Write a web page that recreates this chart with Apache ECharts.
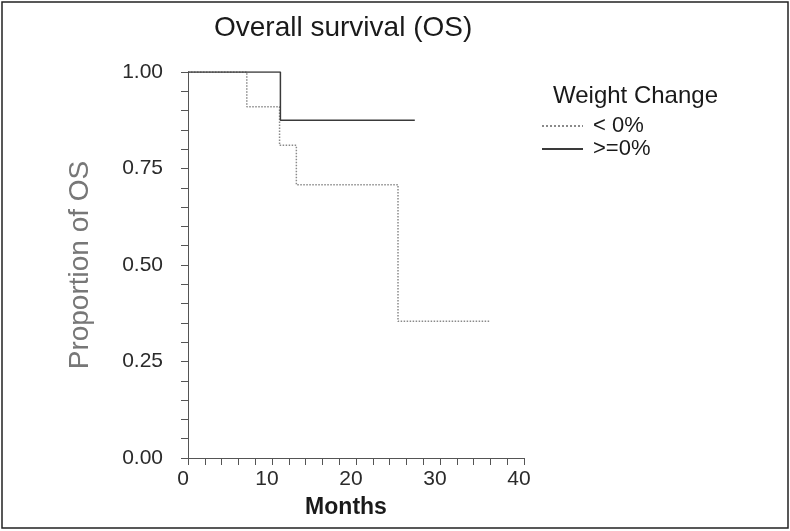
<!DOCTYPE html>
<html>
<head>
<meta charset="utf-8">
<script src="https://cdn.jsdelivr.net/npm/echarts@6/dist/echarts.min.js"></script>
<style>
html,body{margin:0;padding:0;background:#fff;}
#chart{width:790px;height:531px;}
</style>
</head>
<body>
<div id="chart"></div>
<script>
// Kaplan-Meier step data: [months, proportion]
var neg_months = [0, 7, 10.9, 12.9, 25, 36];
var neg_surv   = [1, 0.91, 0.81, 0.708, 0.354, 0.354];
var pos_months = [0, 11, 27];
var pos_surv   = [1, 0.875, 0.875];
var seriesNames = ['< 0%', '>=0%'];
var yTicks = [0, 0.25, 0.5, 0.75, 1];
var xTicks = [0, 10, 20, 30, 40];

function zip(a, b) { return a.map(function (v, i) { return [v, b[i]]; }); }

var FONT = 'Liberation Sans, Arial, sans-serif';
var chart = echarts.init(document.getElementById('chart'), null, {renderer: 'canvas'});
chart.setOption({
  animation: false,
  backgroundColor: '#fff',
  title: [
    {text: 'Overall survival (OS)', left: 209, top: 9,
     textStyle: {fontFamily: FONT, fontSize: 28, fontWeight: 'normal', color: '#1a1a1a'}},
    {text: 'Weight Change', left: 548, top: 79,
     textStyle: {fontFamily: FONT, fontSize: 24, fontWeight: 'normal', color: '#1a1a1a'}}
  ],
  legend: {
    orient: 'vertical', left: 536, top: 110,
    itemWidth: 41, itemHeight: 12, itemGap: 1,
    itemStyle: {opacity: 0},
    textStyle: {fontFamily: FONT, fontSize: 22, color: '#1a1a1a', padding: [0, 0, 0, 5]},
    data: seriesNames
  },
  grid: {left: 188, right: 266, top: 72, bottom: 73, containLabel: false},
  xAxis: {
    type: 'value', min: 0, max: 40, interval: 10,
    name: 'Months', nameLocation: 'middle', nameGap: 38,
    nameTextStyle: {fontFamily: FONT, fontSize: 23, fontWeight: 'bold', color: '#1a1a1a', padding: [0, 20, 0, 0]},
    axisLine: {show: true, lineStyle: {color: '#555', width: 1}},
    axisTick: {show: true, inside: false, length: 7, lineStyle: {color: '#555'}},
    minorTick: {show: true, splitNumber: 5, length: 7, lineStyle: {color: '#555'}},
    splitLine: {show: false},
    axisLabel: {fontFamily: FONT, fontSize: 21, color: '#2a2a2a', margin: 11, padding: [0, 10, 0, 0],
      formatter: function (v) { return xTicks.indexOf(v) >= 0 ? String(v) : ''; }}
  },
  yAxis: {
    type: 'value', min: 0, max: 1, interval: 0.25,
    name: 'Proportion of OS', nameLocation: 'middle', nameGap: 94,
    nameTextStyle: {fontFamily: FONT, fontSize: 28, color: '#777'},
    axisLine: {show: true, lineStyle: {color: '#555', width: 1}},
    axisTick: {show: true, inside: false, length: 7, lineStyle: {color: '#555'}},
    minorTick: {show: true, splitNumber: 5, length: 7, lineStyle: {color: '#555'}},
    splitLine: {show: false},
    axisLabel: {fontFamily: FONT, fontSize: 21, color: '#2a2a2a', margin: 25,
      formatter: function (v) { return yTicks.indexOf(v) >= 0 ? v.toFixed(2) : ''; }}
  },
  graphic: [
    {type: 'rect', shape: {x: 2, y: 2, width: 786, height: 526},
     style: {fill: 'none', stroke: '#222', lineWidth: 1.5}, silent: true}
  ],
  series: [
    {name: seriesNames[0], type: 'line', step: 'end', symbol: 'none', showSymbol: false,
     data: zip(neg_months, neg_surv),
     lineStyle: {color: '#8a8a8a', width: 1.5, type: 'dotted'},
     itemStyle: {color: '#8a8a8a'}},
    {name: seriesNames[1], type: 'line', step: 'end', symbol: 'none', showSymbol: false,
     data: zip(pos_months, pos_surv),
     lineStyle: {color: '#3a3a3a', width: 1.5, type: 'solid'},
     itemStyle: {color: '#3a3a3a'}}
  ]
});
</script>
</body>
</html>
